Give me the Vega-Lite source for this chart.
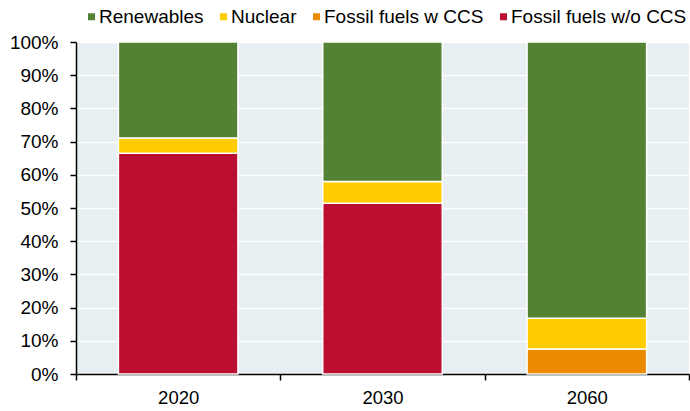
{
  "$schema": "https://vega.github.io/schema/vega-lite/v6.json",
  "width": 690,
  "height": 411,
  "autosize": {"type": "fit", "contains": "padding"},
  "padding": {"left": 9, "top": 33, "right": 0, "bottom": 4},
  "background": "white",
  "config": {
    "font": "Liberation Sans",
    "view": {"fill": "#e7eff2", "stroke": null}
  },
  "data": {
    "values": [
      {"year": "2020", "source": "Fossil fuels w/o CCS", "share": 0.665},
      {"year": "2020", "source": "Nuclear", "share": 0.046},
      {"year": "2020", "source": "Renewables", "share": 0.289},
      {"year": "2030", "source": "Fossil fuels w/o CCS", "share": 0.514},
      {"year": "2030", "source": "Nuclear", "share": 0.066},
      {"year": "2030", "source": "Renewables", "share": 0.420},
      {"year": "2060", "source": "Fossil fuels w CCS", "share": 0.075},
      {"year": "2060", "source": "Nuclear", "share": 0.093},
      {"year": "2060", "source": "Renewables", "share": 0.832}
    ]
  },
  "mark": {"type": "bar", "width": {"band": 0.585}, "stroke": "white", "strokeWidth": 1.5},
  "encoding": {
    "x": {
      "field": "year", "type": "nominal",
      "scale": {"paddingInner": 0, "paddingOuter": 0},
      "axis": {
        "title": null, "labelAngle": 0, "labelFontSize": 18.5, "labelColor": "#000",
        "domainColor": "#000", "domainWidth": 1.5, "tickColor": "#000", "tickWidth": 1.5,
        "tickSize": 6, "tickBand": "extent", "labelPadding": 8, "grid": false
      }
    },
    "y": {
      "field": "share", "type": "quantitative", "stack": "zero",
      "scale": {"domain": [0, 1], "nice": false},
      "axis": {
        "title": null, "format": ".0%", "values": [0, 0.1, 0.2, 0.3, 0.4, 0.5, 0.6, 0.7, 0.8, 0.9, 1],
        "labelFontSize": 19, "labelColor": "#000", "domainColor": "#000", "domainWidth": 1.5,
        "tickColor": "#000", "tickWidth": 1.5, "tickSize": 6, "labelPadding": 12,
        "grid": true, "gridColor": "white", "gridWidth": 1.5
      }
    },
    "color": {
      "field": "source", "type": "nominal",
      "scale": {
        "domain": ["Renewables", "Nuclear", "Fossil fuels w CCS", "Fossil fuels w/o CCS"],
        "range": ["#548235", "#ffcc00", "#ed8b00", "#bb0e31"]
      },
      "legend": {
        "title": null, "orient": "none", "direction": "horizontal",
        "legendX": 6, "legendY": -35,
        "symbolType": "square", "symbolSize": 49, "symbolStrokeWidth": 0,
        "labelFontSize": 19, "labelColor": "#000", "columnPadding": 10, "labelOffset": -2,
        "labelLimit": 400
      }
    },
    "order": {"field": "source", "sort": "ascending"}
  }
}
